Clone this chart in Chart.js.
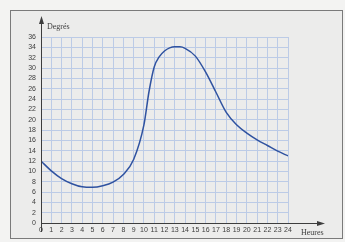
<!DOCTYPE html>
<html>
<head>
<meta charset="utf-8">
<script src="https://cdn.jsdelivr.net/npm/chart.js@4"></script>
<style>
  html, body { margin: 0; padding: 0; background: #f3f3f2; }
  #wrap { position: relative; width: 345px; height: 242px; }
  #frame { position: absolute; left: 10px; top: 10px; width: 331px; height: 227px; border: 1px solid #7a7a7a; background: #ececeb; }
  canvas { position: absolute; left: 0; top: 0; }
</style>
</head>
<body>
<div id="wrap">
  <div id="frame"></div>
  <canvas id="chart" width="345" height="242"></canvas>
</div>
<script>
const hours = [0, 1, 2, 3, 4, 5, 6, 7, 8, 9, 10, 10.5, 11, 11.5, 12, 12.5, 13, 13.5, 14, 15, 16, 17, 18, 19, 20, 21, 22, 23, 24];
const temps = [12, 10.1, 8.6, 7.6, 7.0, 6.9, 7.2, 7.9, 9.4, 12.3, 19, 25.5, 30.2, 32.2, 33.3, 33.9, 34.1, 34.1, 33.8, 32.3, 29.2, 25.3, 21.4, 19, 17.4, 16.1, 15, 13.9, 13];
const yLabel = "Degrés";
const xLabel = "Heures";

const ink = "#3d3d3d";
const gridBlue = "#bccbe6";

// axes run past the grid and end in arrows
const arrows = {
    id: "arrows",
    afterDraw(c) {
        const ctx = c.ctx, a = c.chartArea;
        const yTip = a.top - 21, xTip = a.right + 37;
        ctx.save();
        ctx.fillStyle = ink;
        ctx.strokeStyle = ink;
        ctx.lineWidth = 1;
        ctx.beginPath();
        ctx.moveTo(a.left + 0.5, a.bottom + 9);
        ctx.lineTo(a.left + 0.5, yTip + 4);
        ctx.moveTo(a.left, a.bottom + 0.5);
        ctx.lineTo(xTip - 4, a.bottom + 0.5);
        ctx.stroke();
        ctx.beginPath();
        ctx.moveTo(a.left + 0.5, yTip);
        ctx.lineTo(a.left - 2, yTip + 8);
        ctx.lineTo(a.left + 3, yTip + 8);
        ctx.closePath();
        ctx.fill();
        ctx.beginPath();
        ctx.moveTo(xTip, a.bottom + 0.5);
        ctx.lineTo(xTip - 8, a.bottom - 2);
        ctx.lineTo(xTip - 8, a.bottom + 3);
        ctx.closePath();
        ctx.fill();
        ctx.font = "8px 'Liberation Serif', serif";
        ctx.textBaseline = "middle";
        ctx.textAlign = "left";
        ctx.fillText(yLabel, a.left + 6, a.top - 10);
        ctx.fillText(xLabel, a.right + 13, a.bottom + 10);
        ctx.restore();
    }
};

const tickFont = { family: "'Liberation Sans Narrow', 'Liberation Sans', sans-serif", size: 7 };

new Chart(document.getElementById("chart"), {
    type: "line",
    data: {
        datasets: [{
            data: hours.map((h, i) => ({ x: h, y: temps[i] })),
            borderColor: "#2f52a0",
            borderWidth: 1.5,
            pointRadius: 0,
            fill: false,
            cubicInterpolationMode: "monotone"
        }]
    },
    options: {
        responsive: false,
        animation: false,
        layout: { padding: { top: 37, right: 57, left: 0, bottom: 0 } },
        plugins: { legend: { display: false }, tooltip: { enabled: false } },
        scales: {
            x: {
                type: "linear",
                min: 0, max: 24,
                afterFit: s => { s.height = 19; },
                border: { color: ink, width: 1 },
                grid: { color: gridBlue, drawTicks: false, lineWidth: 1 },
                ticks: { stepSize: 1, color: ink, padding: 3, maxRotation: 0, autoSkip: false, font: tickFont }
            },
            y: {
                min: 0, max: 36,
                afterFit: s => { s.width = 41; },
                border: { color: ink, width: 1 },
                grid: { color: gridBlue, drawTicks: false, lineWidth: 1 },
                ticks: { stepSize: 2, color: ink, padding: 5, autoSkip: false, font: tickFont }
            }
        }
    },
    plugins: [arrows]
});
</script>
</body>
</html>
